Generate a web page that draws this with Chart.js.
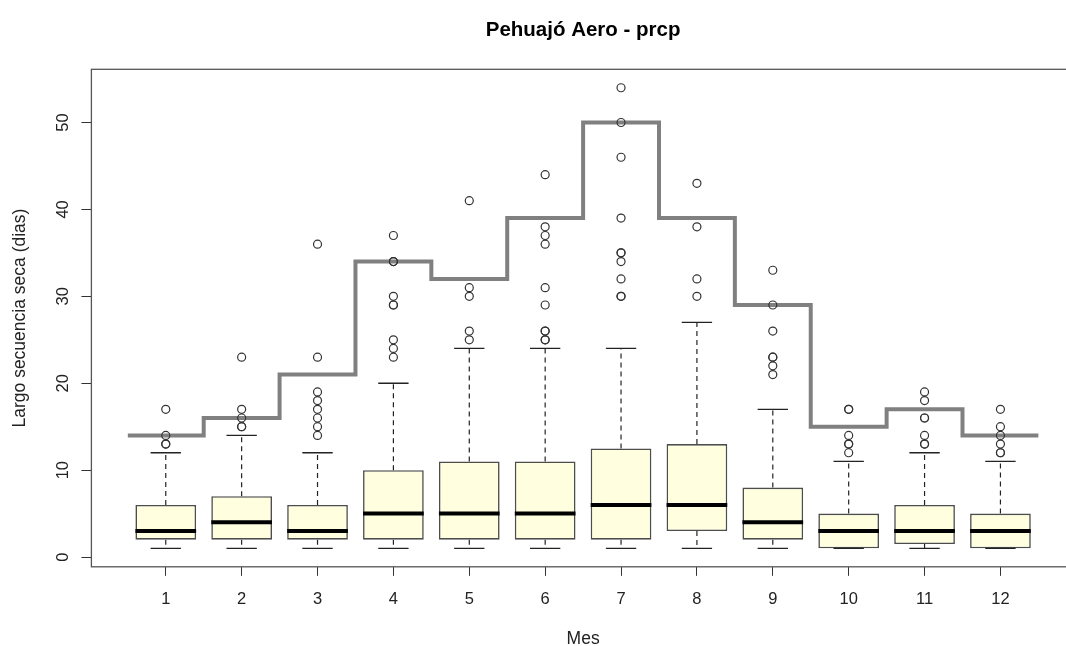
<!DOCTYPE html>
<html>
<head>
<meta charset="utf-8">
<title>Pehuajó Aero - prcp</title>
<script src="https://cdn.jsdelivr.net/npm/chart.js@4/dist/chart.umd.min.js"></script>
<style>
  html, body { margin: 0; padding: 0; background: #fff; overflow: hidden; }
  #wrap { position: absolute; left: 0; top: 0; width: 1080px; height: 646px; }
</style>
</head>
<body>
<div id="wrap"><canvas id="chart-seca" width="1080" height="646"></canvas></div>
<script>
// data (dias secos consecutivos por mes)
var meses = [1, 2, 3, 4, 5, 6, 7, 8, 9, 10, 11, 12];
var bigoteInf = [1, 1, 1, 1, 1, 1, 1, 1, 1, 1, 1, 1];
var q1 = [2, 2, 2, 2, 2, 2, 2, 3, 2, 1, 1.5, 1];
var medianas = [3, 4, 3, 5, 5, 5, 6, 6, 4, 3, 3, 3];
var q3 = [6, 7, 6, 10, 11, 11, 12.5, 13, 8, 5, 6, 5];
var bigoteSup = [12, 14, 12, 20, 24, 24, 24, 27, 17, 11, 12, 11];
var atipicos = [
  [13, 13, 14, 17],
  [15, 15, 16, 17, 23],
  [14, 15, 16, 17, 18, 19, 23, 36],
  [23, 24, 25, 29, 29, 30, 34, 34, 37],
  [25, 26, 30, 31, 41],
  [25, 25, 26, 26, 29, 31, 36, 37, 38, 44],
  [30, 30, 32, 34, 35, 35, 39, 46, 50, 54],
  [30, 32, 38, 43],
  [21, 22, 23, 23, 26, 29, 33],
  [12, 13, 13, 14, 17, 17],
  [13, 13, 14, 16, 16, 18, 19],
  [12, 12, 13, 14, 15, 17]
];
// maximum dry spell per month (grey step line)
var maxSeca = [14, 16, 21, 34, 32, 39, 50, 39, 29, 15, 17, 14];
var yTicks = [0, 10, 20, 30, 40, 50];

Chart.defaults.font.family = "'Liberation Sans', Arial, sans-serif";
Chart.defaults.color = '#222';

var medioCaja = 0.4;   // half box width, in month units
var medioTope = 0.2;   // half staple width

var cajas = [], bigotes = [], topes = [], lineasMed = [], puntos = [], escalon = [];
for (var i = 0; i < meses.length; i++) {
  var m = meses[i];
  cajas.push({ x: m, y: [q1[i], q3[i]] });

  bigotes.push({ x: m, y: q3[i] }, { x: m, y: bigoteSup[i] }, { x: m, y: null });
  bigotes.push({ x: m, y: q1[i] }, { x: m, y: bigoteInf[i] }, { x: m, y: null });

  topes.push({ x: m - medioTope, y: bigoteSup[i] }, { x: m + medioTope, y: bigoteSup[i] }, { x: m, y: null });
  topes.push({ x: m - medioTope, y: bigoteInf[i] }, { x: m + medioTope, y: bigoteInf[i] }, { x: m, y: null });

  lineasMed.push({ x: m - medioCaja, y: medianas[i] }, { x: m + medioCaja, y: medianas[i] }, { x: m, y: null });

  for (var k = 0; k < atipicos[i].length; k++) {
    puntos.push({ x: m, y: atipicos[i][k] });
  }
  escalon.push({ x: m - 0.5, y: maxSeca[i] });
}
escalon.push({ x: meses[meses.length - 1] + 0.5, y: maxSeca[maxSeca.length - 1] });

// frame around the plot region, like R's box()
var marco = {
  id: 'marco',
  afterDraw: function(chart) {
    var a = chart.chartArea, ctx = chart.ctx;
    ctx.save();
    ctx.strokeStyle = '#555';
    ctx.lineWidth = 1.3;
    ctx.strokeRect(a.left, a.top, a.right - a.left, a.bottom - a.top);
    ctx.restore();
  }
};

new Chart(document.getElementById('chart-seca'), {
  type: 'bar',
  data: {
    datasets: [{
      type: 'scatter',
      data: puntos,
      pointRadius: 4,
      pointBorderWidth: 1.2,
      pointBorderColor: '#333',
      pointBackgroundColor: 'rgba(0,0,0,0)',
      order: 0
    }, {
      type: 'line',
      data: lineasMed,
      borderColor: '#000',
      borderWidth: 4,
      borderCapStyle: 'butt',
      pointRadius: 0,
      spanGaps: false,
      order: 1
    }, {
      type: 'line',
      data: escalon,
      stepped: true,
      borderColor: '#808080',
      borderWidth: 4,
      pointRadius: 0,
      order: 2
    }, {
      type: 'line',
      data: topes,
      borderColor: '#222',
      borderWidth: 1.3,
      pointRadius: 0,
      spanGaps: false,
      order: 3
    }, {
      type: 'bar',
      data: cajas,
      backgroundColor: '#FFFFE0',
      borderColor: '#4d4d4d',
      borderWidth: 1.6,
      borderSkipped: false,
      categoryPercentage: 0.8,
      barPercentage: 1,
      order: 4
    }, {
      type: 'line',
      data: bigotes,
      borderColor: '#222',
      borderWidth: 1.2,
      borderDash: [5, 4],
      pointRadius: 0,
      spanGaps: false,
      order: 5
    }]
  },
  options: {
    responsive: false,
    animation: false,
    events: [],
    layout: { padding: { left: 0, right: 1.4, top: 0, bottom: 0 } },
    plugins: {
      legend: { display: false },
      tooltip: { enabled: false },
      title: {
        display: true,
        text: 'Pehuajó Aero - prcp',
        fullSize: false,
        color: '#000',
        font: { size: 20.5, weight: 'bold' },
        padding: { top: 17.7, bottom: 27 }
      }
    },
    scales: {
      x: {
        type: 'linear',
        min: 0.02,
        max: 12.98,
        offset: false,
        afterBuildTicks: function(s) {
          s.ticks = meses.map(function(v) { return { value: v }; });
        },
        ticks: { autoSkip: false, font: { size: 16.5 }, padding: 13.7, maxRotation: 0 },
        grid: { display: true, offset: false, drawOnChartArea: false, tickLength: 9, color: '#333' },
        border: { display: false },
        title: {
          display: true,
          text: 'Mes',
          font: { size: 17.5, lineHeight: 0.8 },
          padding: { top: 9, bottom: 0 }
        }
      },
      y: {
        type: 'linear',
        min: -1.12,
        max: 56.12,
        afterBuildTicks: function(s) {
          s.ticks = yTicks.map(function(v) { return { value: v }; });
        },
        ticks: { font: { size: 16.5 }, minRotation: 90, maxRotation: 90, crossAlign: 'center', padding: 9 },
        grid: { display: true, drawOnChartArea: false, tickLength: 10, color: '#333' },
        border: { display: false },
        title: {
          display: true,
          text: 'Largo secuencia seca (dias)',
          font: { size: 17.5 },
          padding: { top: 9.5, bottom: 13.1 }
        }
      }
    }
  },
  plugins: [marco]
});
</script>
</body>
</html>
